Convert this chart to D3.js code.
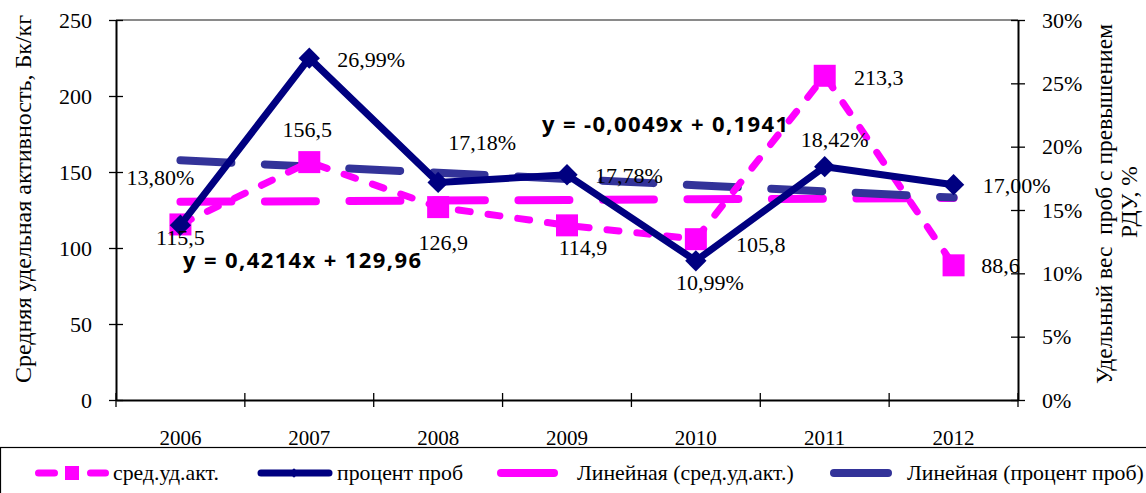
<!DOCTYPE html>
<html>
<head>
<meta charset="utf-8">
<script src="https://cdn.jsdelivr.net/npm/d3@7"></script>
<style>
  body { margin: 0; background: #fff; }
  svg { display: block; }
  text { font-family: "Liberation Serif", "Times New Roman", serif; fill: #000; }
  .eq { font-family: "Open Sans", "Liberation Sans", sans-serif; font-weight: bold; }
</style>
</head>
<body>
<svg id="chart" width="1146" height="493"></svg>
<script>
// данные
var years = ["2006", "2007", "2008", "2009", "2010", "2011", "2012"];
var activity = [115.5, 156.5, 126.9, 114.9, 105.8, 213.3, 88.6];      // сред.уд.акт., Бк/кг
var percent = [0.1380, 0.2699, 0.1718, 0.1778, 0.1099, 0.1842, 0.1700]; // процент проб
var activityLabels = ["115,5", "156,5", "126,9", "114,9", "105,8", "213,3", "88,6"];
var percentLabels = ["13,80%", "26,99%", "17,18%", "17,78%", "10,99%", "18,42%", "17,00%"];
var leftTicks = [0, 50, 100, 150, 200, 250];
var rightTicks = [0, 0.05, 0.10, 0.15, 0.20, 0.25, 0.30];
// линии тренда (из уравнений Excel)
var trendAct = { a: 0.4214, b: 129.96, text: "y = 0,4214x + 129,96" };
var trendPct = { a: -0.0049, b: 0.1941, text: "y = -0,0049x + 0,1941" };

// сдвиги подписей относительно точек
var actLabelOffset = [[0, 21], [-2, -25], [5, 43], [16, 30], [65, 13], [54, 9], [47, 8]];
var pctLabelOffset = [[-20, -40], [62, 9], [44, -32], [62, 8], [14, 29], [10, -20], [63, 8]];

var svg = d3.select("#chart");
var pLeft = 116, pRight = 1018, pTop = 20, pBottom = 400;

var x = d3.scaleBand().domain(years).range([pLeft, pRight]);
var cx = function (d) { return x(d) + x.bandwidth() / 2; };
var yL = d3.scaleLinear().domain([0, 250]).range([pBottom, pTop]);
var yR = d3.scaleLinear().domain([0, 0.3]).range([pBottom, pTop]);

var pink = "#FF00FF", navy = "#000080", slate = "#333399";

// верхняя граница
svg.append("line")
  .attr("x1", pLeft).attr("x2", pRight).attr("y1", pTop).attr("y2", pTop)
  .attr("stroke", "#8a8a8a").attr("stroke-width", 2);

// линии тренда
var trendLine = function (t, scale) {
  return years.map(function (d, i) { return [cx(d), scale(t.a * (i + 1) + t.b)]; });
};
svg.append("path")
  .attr("d", d3.line()(trendLine(trendAct, yL)))
  .attr("fill", "none").attr("stroke", pink).attr("stroke-width", 8)
  .attr("stroke-linecap", "round").attr("stroke-dasharray", "51,33.5");
svg.append("path")
  .attr("d", d3.line()(trendLine(trendPct, yR)))
  .attr("fill", "none").attr("stroke", slate).attr("stroke-width", 8)
  .attr("stroke-linecap", "round").attr("stroke-dasharray", "51,33.5");

// сред.уд.акт.
svg.append("path")
  .datum(activity)
  .attr("d", d3.line().x(function (d, i) { return cx(years[i]); }).y(function (d) { return yL(d); }))
  .attr("fill", "none").attr("stroke", pink).attr("stroke-width", 7)
  .attr("stroke-linecap", "round").attr("stroke-dasharray", "12,18");
svg.append("g").selectAll("rect")
  .data(activity).enter().append("rect")
  .attr("x", function (d, i) { return cx(years[i]) - 11; })
  .attr("y", function (d) { return yL(d) - 11; })
  .attr("width", 22).attr("height", 22)
  .attr("fill", pink);

// процент проб
svg.append("path")
  .datum(percent)
  .attr("d", d3.line().x(function (d, i) { return cx(years[i]); }).y(function (d) { return yR(d); }))
  .attr("fill", "none").attr("stroke", navy).attr("stroke-width", 7)
  .attr("stroke-linejoin", "round");
var diamond = d3.symbol().type(d3.symbolDiamond2).size(290);
svg.append("g").selectAll("path")
  .data(percent).enter().append("path")
  .attr("d", diamond)
  .attr("transform", function (d, i) { return "translate(" + cx(years[i]) + "," + yR(d) + ")"; })
  .attr("fill", navy);

// оси
var axisL = svg.append("g").attr("transform", "translate(" + pLeft + ",0)")
  .call(d3.axisLeft(yL).tickValues(leftTicks).tickSize(7).tickSizeOuter(0).tickPadding(17));
var axisR = svg.append("g").attr("transform", "translate(" + pRight + ",0)")
  .call(d3.axisRight(yR).tickValues(rightTicks).tickSize(7).tickSizeOuter(0).tickPadding(17).tickFormat(d3.format(".0%")));
var axisB = svg.append("g").attr("transform", "translate(0," + pBottom + ")")
  .call(d3.axisBottom(x).tickSize(0).tickPadding(30));
[axisL, axisR].forEach(function (a) {
  a.selectAll(".tick line").attr("x1", -7).attr("x2", 7);
});
svg.append("g").selectAll("line")
  .data(years.map(function (d) { return x(d); }).concat([pRight]))
  .enter().append("line")
  .attr("x1", function (d) { return d; }).attr("x2", function (d) { return d; })
  .attr("y1", pBottom - 7).attr("y2", pBottom + 7)
  .attr("stroke", "#000").attr("stroke-width", 1.3);
[axisL, axisR, axisB].forEach(function (a) {
  a.select(".domain").attr("stroke", "#000").attr("stroke-width", 2);
  a.selectAll(".tick line").attr("stroke", "#000").attr("stroke-width", 1.3);
  a.selectAll("text").style("font-family", "Liberation Serif").attr("fill", "#000");
});
axisL.selectAll("text").style("font-size", "22px");
axisR.selectAll("text").style("font-size", "22px");
axisB.selectAll("text").style("font-size", "21px");

// подписи данных
svg.append("g").selectAll("text")
  .data(activityLabels).enter().append("text")
  .attr("x", function (d, i) { return cx(years[i]) + actLabelOffset[i][0]; })
  .attr("y", function (d, i) { return yL(activity[i]) + actLabelOffset[i][1]; })
  .attr("text-anchor", "middle").style("font-size", "22px")
  .text(function (d) { return d; });
svg.append("g").selectAll("text")
  .data(percentLabels).enter().append("text")
  .attr("x", function (d, i) { return cx(years[i]) + pctLabelOffset[i][0]; })
  .attr("y", function (d, i) { return yR(percent[i]) + pctLabelOffset[i][1]; })
  .attr("text-anchor", "middle").style("font-size", "22px")
  .text(function (d) { return d; });

// уравнения
svg.append("text").attr("class", "eq").attr("x", 183).attr("y", 268)
  .attr("textLength", 238).attr("lengthAdjust", "spacing")
  .style("font-size", "22px").text(trendAct.text);
svg.append("text").attr("class", "eq").attr("x", 542).attr("y", 132)
  .attr("textLength", 246).attr("lengthAdjust", "spacing")
  .style("font-size", "22px").text(trendPct.text);

// заголовки осей
svg.append("text")
  .attr("transform", "translate(31,199) rotate(-90)")
  .attr("text-anchor", "middle").style("font-size", "24px")
  .text("Средняя удельная активность, Бк/кг");
svg.append("text")
  .attr("transform", "translate(1112,204) rotate(-90)")
  .attr("text-anchor", "middle").style("font-size", "23.5px").style("white-space", "pre")
  .text("Удельный вес  проб с превышением");
svg.append("text")
  .attr("transform", "translate(1137,202) rotate(-90)")
  .attr("text-anchor", "middle").style("font-size", "23.5px")
  .text("РДУ, %");

// легенда
var legend = svg.append("g");
legend.append("rect")
  .attr("x", 0.5).attr("y", 447.5).attr("width", 1160).attr("height", 60)
  .attr("fill", "none").attr("stroke", "#000").attr("stroke-width", 1.2);
var ly = 473;
legend.append("line").attr("x1", 38.5).attr("x2", 105.5).attr("y1", ly).attr("y2", ly)
  .attr("stroke", pink).attr("stroke-width", 7).attr("stroke-linecap", "round")
  .attr("stroke-dasharray", "16,36");
legend.append("rect").attr("x", 65).attr("y", ly - 7).attr("width", 14).attr("height", 14).attr("fill", pink);
legend.append("text").attr("x", 113).attr("y", ly + 7).style("font-size", "21.8px").text("сред.уд.акт.");

legend.append("line").attr("x1", 261).attr("x2", 329).attr("y1", ly).attr("y2", ly)
  .attr("stroke", navy).attr("stroke-width", 7).attr("stroke-linecap", "round");
legend.append("path").attr("d", d3.symbol().type(d3.symbolDiamond2).size(60))
  .attr("transform", "translate(294," + ly + ")").attr("fill", navy);
legend.append("text").attr("x", 337).attr("y", ly + 7).style("font-size", "21.8px").text("процент проб");

legend.append("line").attr("x1", 501).attr("x2", 554).attr("y1", ly).attr("y2", ly)
  .attr("stroke", pink).attr("stroke-width", 8).attr("stroke-linecap", "round");
legend.append("text").attr("x", 577).attr("y", ly + 7).style("font-size", "21.8px").text("Линейная (сред.уд.акт.)");

legend.append("line").attr("x1", 834).attr("x2", 888).attr("y1", ly).attr("y2", ly)
  .attr("stroke", slate).attr("stroke-width", 8).attr("stroke-linecap", "round");
legend.append("text").attr("x", 907).attr("y", ly + 7).style("font-size", "21.8px").text("Линейная (процент проб)");
</script>
</body>
</html>
